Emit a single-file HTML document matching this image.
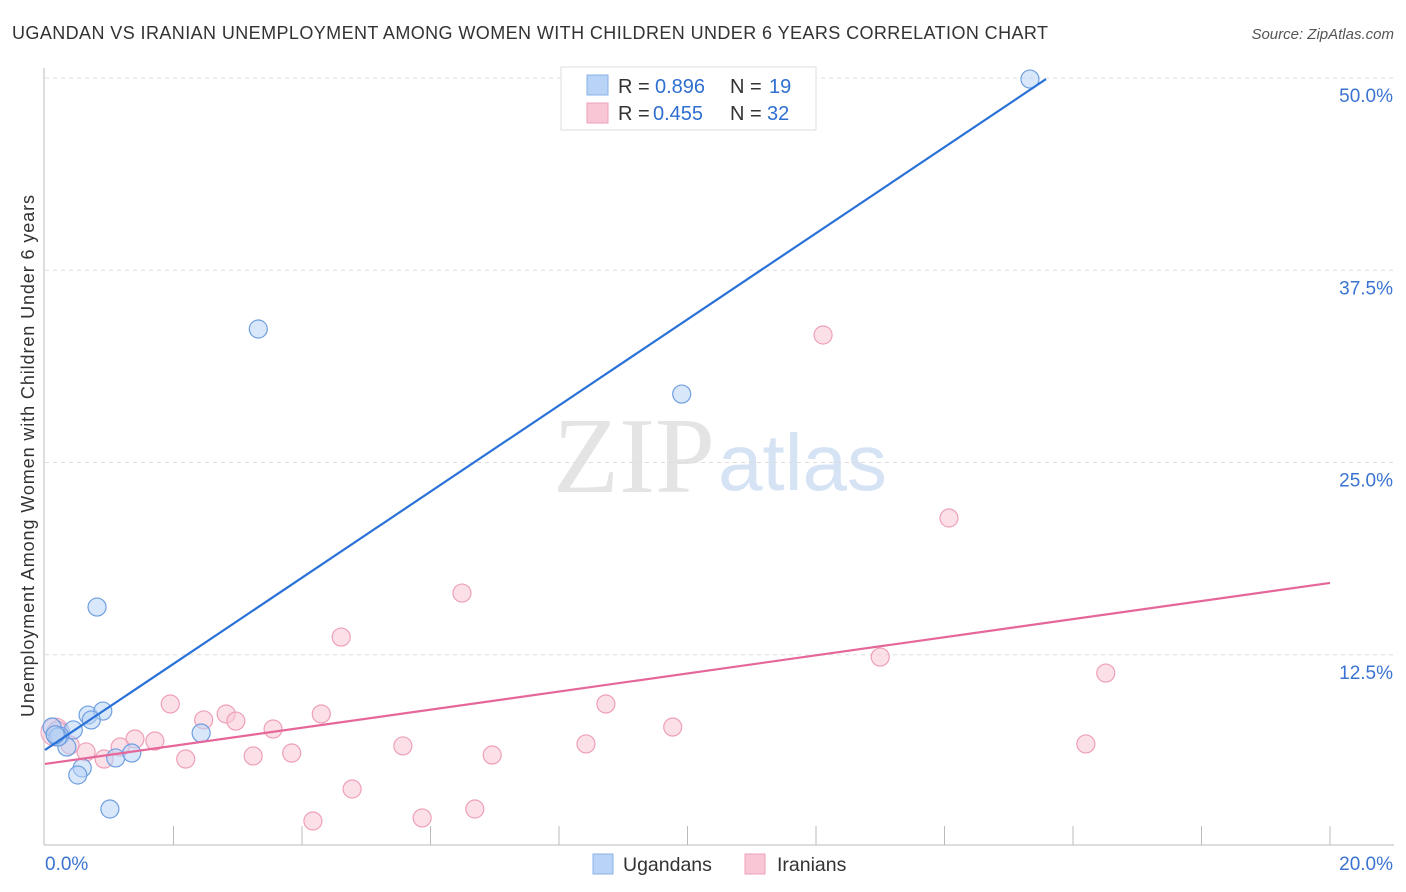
<!DOCTYPE html>
<html><head><meta charset="utf-8"><style>
body{margin:0;background:#fff;font-family:"Liberation Sans",sans-serif;}
svg{display:block}
</style></head><body>
<svg id="c" width="1406" height="892">
<text x="12" y="39" font-size="18" fill="#333" textLength="1036">UGANDAN VS IRANIAN UNEMPLOYMENT AMONG WOMEN WITH CHILDREN UNDER 6 YEARS CORRELATION CHART</text>
<text x="1394" y="39" font-size="15" fill="#555" font-style="italic" text-anchor="end">Source: ZipAtlas.com</text>
<text x="553" y="492" font-size="108" fill="#e4e4e4" font-family="Liberation Serif">ZIP</text>
<text x="718" y="490" font-size="80" fill="#d6e3f5">atlas</text>
<text transform="translate(34,456) rotate(-90)" font-size="18" fill="#333" text-anchor="middle" textLength="522">Unemployment Among Women with Children Under 6 years</text>
<g id="grid"></g><g id="pts"></g><g id="lines"></g>
<g>
<rect x="561" y="67" width="255" height="63" fill="#fff" stroke="#ddd"/>
<rect x="587" y="75" width="21" height="20" fill="#b8d3f5" stroke="#8ab2e6"/>
<rect x="587" y="103" width="21" height="20" fill="#f9c6d5" stroke="#eea0b8"/>
<text x="618" y="93" font-size="20" fill="#333">R = <tspan x="655" fill="#2f6fd0">0.896</tspan><tspan x="730">N = </tspan><tspan x="769" fill="#2f6fd0">19</tspan></text>
<text x="618" y="120" font-size="20" fill="#333">R = <tspan x="653" fill="#2f6fd0">0.455</tspan><tspan x="730">N = </tspan><tspan x="767" fill="#2f6fd0">32</tspan></text>
</g>
<g>
<rect x="593" y="854" width="20" height="20" fill="#b8d3f5" stroke="#8ab2e6"/>
<text x="623" y="871" font-size="19.5" fill="#333">Ugandans</text>
<rect x="745" y="854" width="20" height="20" fill="#f9c6d5" stroke="#eea0b8"/>
<text x="777" y="871" font-size="19.5" fill="#333">Iranians</text>
</g>
</svg>
<script>
const xTicks=[0,20];
const yTicks=[12.5,25,37.5,50];
const ugX=[15.33,3.32,9.91,0.81,0.67,0.90,0.72,0.44,0.11,0.23,0.34,0.20,2.43,1.10,1.35,0.58,0.51,1.01,0.16];
const ugY=[49.93,33.68,29.45,15.6,8.58,8.84,8.26,7.61,7.8,7.22,6.5,7.15,7.41,5.79,6.11,5.14,4.68,2.47,7.3];
const irX=[12.11,14.07,6.49,4.61,13.0,16.51,1.95,8.73,2.82,4.30,2.47,2.97,3.55,9.77,1.71,1.40,1.17,0.64,0.19,0.39,5.57,8.42,16.2,3.84,3.24,6.96,2.19,0.92,4.78,6.69,5.87,4.17];
const irY=[33.29,21.39,16.51,13.65,12.35,11.31,9.30,9.30,8.65,8.65,8.26,8.19,7.67,7.80,6.89,7.02,6.5,6.18,7.61,6.63,6.57,6.7,6.7,6.11,5.92,5.98,5.72,5.72,3.77,2.47,1.89,1.69];
const ugLine=[[0,6.31],[15.58,49.93]];
const irLine=[[0,5.4],[20,17.17]];
const X=v=>45+v*64.25, Y=v=>847-v*15.38;
const NS="http://www.w3.org/2000/svg";
function mk(t,a,p){const e=document.createElementNS(NS,t);for(const k in a)e.setAttribute(k,a[k]);p.appendChild(e);return e;}
const g=document.getElementById('grid');
yTicks.forEach(t=>{const l=mk('line',{x1:45,x2:1394,y1:Y(t),y2:Y(t),stroke:'#ddd','stroke-dasharray':'4,4'},g);


const tx=mk('text',{x:1393,y:Y(t)+24,'font-size':19,fill:'#3b73d1','text-anchor':'end'},g);tx.textContent=t.toFixed(1)+'%';

});
mk('line',{x1:44,x2:44,y1:68,y2:845,stroke:'#bbb'},g);
mk('line',{x1:44,x2:1394,y1:845,y2:845,stroke:'#bbb'},g);
for(let i=1;i<=10;i++){mk('line',{x1:X(i*2),x2:X(i*2),y1:826,y2:845,stroke:'#bbb'},g);}
xTicks.forEach((t,i)=>{const tx=mk('text',{x:i?1393:45,y:870,'font-size':19,fill:'#3b73d1','text-anchor':i?'end':'start'},g);tx.textContent=t.toFixed(1)+'%';

});
const p=document.getElementById('pts');
[[55,732,14,'#f9c6d5','#eea0b8'],[58,734,12,'#b8d3f5','#8ab2e6']].forEach(b=>{const c=mk('circle',{cx:b[0],cy:b[1],r:b[2],fill:b[3],'fill-opacity':0.5,stroke:b[4]},p);

});
irX.forEach((x,i)=>{const c=mk('circle',{cx:X(x),cy:Y(irY[i]),r:9,fill:'#f9c6d5','fill-opacity':0.55,stroke:'#eea0b8','stroke-width':1.2},p);

});
ugX.forEach((x,i)=>{const c=mk('circle',{cx:X(x),cy:Y(ugY[i]),r:9,fill:'#b8d3f5','fill-opacity':0.55,stroke:'#6f9fe0','stroke-width':1.2},p);

});
const L=document.getElementById('lines');
const l1=mk('line',{x1:X(ugLine[0][0]),y1:Y(ugLine[0][1]),x2:X(ugLine[1][0]),y2:Y(ugLine[1][1]),stroke:'#2a72d8','stroke-width':2.2},L);


const l2=mk('line',{x1:X(irLine[0][0]),y1:Y(irLine[0][1]),x2:X(irLine[1][0]),y2:Y(irLine[1][1]),stroke:'#e5679a','stroke-width':2.2},L);


</script>
</body></html>
